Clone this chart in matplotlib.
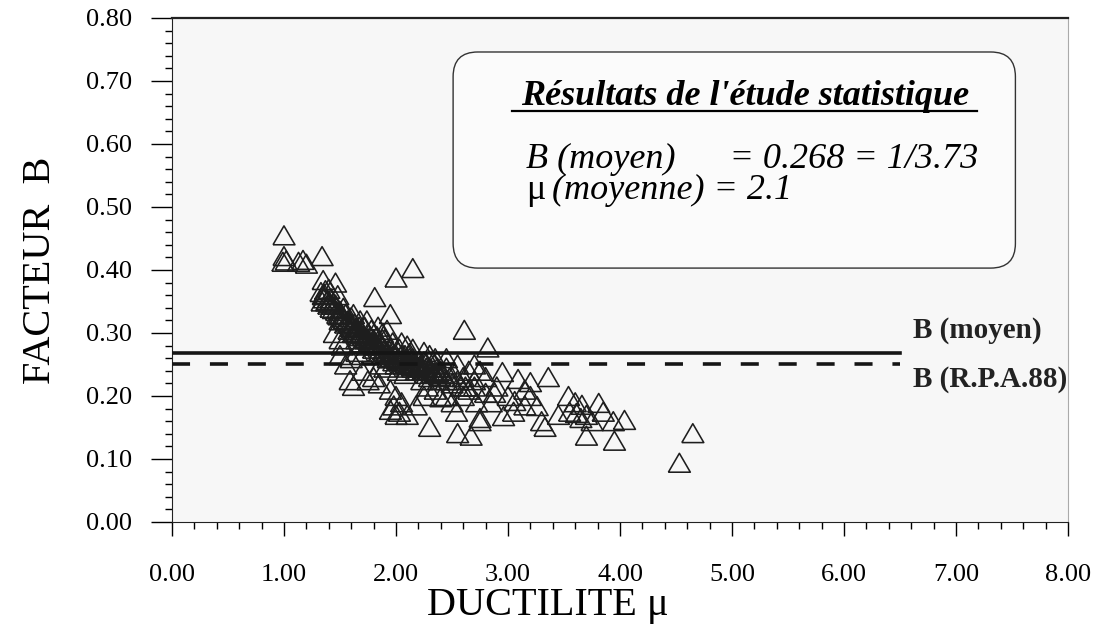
import matplotlib
matplotlib.use("Agg")
import matplotlib.pyplot as plt
from matplotlib.patches import FancyBboxPatch
from matplotlib.ticker import MultipleLocator

plt.rcParams['font.family'] = ['Liberation Serif', 'DejaVu Serif']

# points (ductilite mu, facteur B)
duct = [1.00, 1.00, 0.99, 1.02, 1.13, 1.17, 1.20, 1.34, 1.35, 1.46, 1.40,
        1.33, 1.35, 1.36, 1.38, 1.34, 1.37, 1.40, 1.42, 1.42, 1.44,
        1.46, 1.48, 1.50, 1.50, 1.52, 1.53, 1.55, 1.55, 1.57, 1.58, 1.60, 1.60, 1.45, 1.50, 1.52, 1.48,
        1.62, 1.63, 1.65, 1.65, 1.67, 1.68, 1.70, 1.70, 1.72, 1.73, 1.75, 1.75, 1.77, 1.78, 1.80, 1.80,
        1.62, 1.68, 1.74, 1.65, 1.60, 1.70,
        1.82, 1.83, 1.85, 1.85, 1.87, 1.88, 1.90, 1.90, 1.92, 1.93, 1.95, 1.95, 1.97, 1.98, 2.00, 2.00,
        1.84, 1.88, 1.92, 1.86, 1.90,
        2.02, 2.03, 2.05, 2.05, 2.07, 2.08, 2.10, 2.10, 2.12, 2.13, 2.15, 2.15, 2.17, 2.18, 2.20, 2.20,
        2.05, 2.10, 2.15, 2.02, 2.08,
        2.22, 2.24, 2.25, 2.27, 2.28, 2.30, 2.30, 2.32, 2.34, 2.35, 2.37, 2.38, 2.25, 2.30, 2.35, 2.40,
        2.23, 2.28,
        2.42, 2.45, 2.45, 2.48, 2.50, 2.52, 2.55, 2.58, 2.45, 2.55, 2.60, 2.62,
        1.81, 1.95, 2.00, 2.15, 2.61, 2.82, 2.95, 3.09, 3.20, 3.36, 2.88, 3.06, 3.26, 3.54, 3.66, 3.81,
        3.61, 3.70, 3.94, 4.04, 2.30, 2.55, 2.67, 3.33, 3.70, 3.95, 4.65, 4.53, 2.10, 2.75, 2.54, 2.96,
        2.40, 2.18, 1.62, 1.59, 2.00, 1.95, 2.75, 1.50, 1.55,
        1.70, 1.75, 1.80, 1.85, 1.95, 2.00, 2.05, 1.98, 2.03, 2.25, 2.35, 2.45, 2.50, 2.60, 2.65, 2.70,
        2.72, 2.80, 2.85, 2.90, 3.00, 3.05, 3.15, 3.20, 3.30, 3.45, 3.55, 3.65, 3.75, 3.85, 3.60, 3.15,
        2.70, 2.80, 2.65, 2.70, 2.75,
        1.36, 1.39, 1.41, 1.43, 1.47, 1.49, 1.51, 1.54, 1.56, 1.59, 1.61, 1.64, 1.66, 1.69, 1.71, 1.74,
        1.76, 1.79, 1.81, 1.84, 1.86, 1.89, 1.91, 1.94, 1.96, 1.99, 2.01, 2.04, 2.06, 2.09, 2.11, 2.14,
        2.16, 2.19, 2.21, 2.26, 2.29, 2.33, 2.36, 2.39, 1.97, 2.12, 2.27, 1.78, 1.88, 2.02]
facteur = [0.455, 0.422, 0.413, 0.415, 0.413, 0.416, 0.410, 0.422, 0.384, 0.380, 0.370,
           0.365, 0.360, 0.355, 0.350, 0.350, 0.368, 0.345, 0.355, 0.340, 0.338,
           0.345, 0.330, 0.335, 0.320, 0.325, 0.340, 0.315, 0.330, 0.320, 0.305, 0.310, 0.325, 0.300, 0.290, 0.280, 0.360,
           0.300, 0.315, 0.305, 0.290, 0.310, 0.295, 0.300, 0.285, 0.310, 0.290, 0.300, 0.280, 0.295, 0.285, 0.290, 0.275,
           0.330, 0.320, 0.320, 0.270, 0.260, 0.265,
           0.280, 0.295, 0.285, 0.270, 0.280, 0.265, 0.275, 0.290, 0.270, 0.260, 0.275, 0.260, 0.270, 0.255, 0.265, 0.250,
           0.310, 0.300, 0.305, 0.250, 0.245,
           0.260, 0.275, 0.255, 0.265, 0.250, 0.265, 0.255, 0.245, 0.260, 0.250, 0.245, 0.260, 0.250, 0.240, 0.255, 0.240,
           0.285, 0.280, 0.275, 0.240, 0.235,
           0.250, 0.240, 0.255, 0.245, 0.235, 0.245, 0.230, 0.240, 0.250, 0.235, 0.245, 0.225, 0.270, 0.265, 0.260, 0.240,
           0.225, 0.215,
           0.235, 0.225, 0.245, 0.230, 0.220, 0.235, 0.225, 0.215, 0.260, 0.250, 0.230, 0.215,
           0.357, 0.330, 0.388, 0.403, 0.305, 0.277, 0.238, 0.227, 0.222, 0.230, 0.205, 0.192, 0.184, 0.200, 0.186, 0.189,
           0.173, 0.170, 0.160, 0.162, 0.151, 0.141, 0.137, 0.151, 0.137, 0.129, 0.141, 0.094, 0.170, 0.165, 0.175, 0.168,
           0.198, 0.185, 0.216, 0.225, 0.170, 0.178, 0.160, 0.265, 0.250,
           0.240, 0.225, 0.230, 0.220, 0.210, 0.200, 0.190, 0.185, 0.175, 0.200, 0.210, 0.200, 0.190, 0.200, 0.210, 0.215,
           0.190, 0.205, 0.190, 0.215, 0.200, 0.175, 0.185, 0.200, 0.160, 0.170, 0.175, 0.165, 0.160, 0.175, 0.190, 0.210,
           0.225, 0.230, 0.240, 0.250, 0.240,
           0.362, 0.352, 0.348, 0.345, 0.335, 0.328, 0.330, 0.322, 0.318, 0.315, 0.312, 0.308, 0.302, 0.298, 0.295, 0.292,
           0.288, 0.283, 0.285, 0.280, 0.275, 0.272, 0.268, 0.266, 0.262, 0.262, 0.258, 0.256, 0.258, 0.252, 0.250, 0.248,
           0.252, 0.246, 0.245, 0.242, 0.240, 0.236, 0.238, 0.232, 0.285, 0.268, 0.252, 0.305, 0.290, 0.270]

b_moyen = 0.268
b_rpa = 0.25
lines_end = 6.5

fig = plt.figure(figsize=(10.96, 6.24), dpi=100)
ax = fig.add_axes([0.1569, 0.1635, 0.8176, 0.8077])
ax.set_facecolor('#f7f7f7')

tri = [(-1, -0.86), (1, -0.86), (0, 0.86), (-1, -0.86)]
ax.scatter(duct, facteur, marker=tri, s=250, facecolors='none',
           edgecolors='#1e1e1e', linewidths=1.15, zorder=3)

ax.plot([0, lines_end], [b_moyen, b_moyen], color='#151515', lw=2.6, zorder=4)
ax.plot([0, lines_end], [b_rpa, b_rpa], color='#151515', lw=2.6,
        dashes=(5, 5.5), zorder=4)
ax.text(6.62, 0.304, 'B (moyen)', fontsize=21, fontweight='bold', va='center', color='#222222')
ax.text(6.62, 0.226, 'B (R.P.A.88)', fontsize=21, fontweight='bold', va='center', color='#222222')

# box with the statistics
box = FancyBboxPatch((2.51, 0.403), 5.02, 0.343,
                     boxstyle='round,pad=0,rounding_size=0.22', mutation_aspect=0.178,
                     facecolor='#fbfbfb', edgecolor='#333333', lw=1.0, zorder=5)
ax.add_patch(box)
ax.text(5.12, 0.662, "Résultats de l'étude statistique", fontsize=26, fontweight='bold',
        style='italic', ha='center', va='baseline', zorder=6)
ax.plot([3.04, 7.19], [0.653, 0.653], color='black', lw=1.6, zorder=6)
ax.text(3.16, 0.562, 'B (moyen)      = 0.268 = 1/3.73', fontsize=26, style='italic',
        va='baseline', zorder=6)
ax.text(3.16, 0.512, 'μ', fontsize=26, va='baseline', zorder=6)
ax.text(3.39, 0.512, '(moyenne) = 2.1', fontsize=26, style='italic', va='baseline', zorder=6)

ax.set_xlim(0, 8)
ax.set_ylim(0, 0.8)
ax.xaxis.set_major_locator(MultipleLocator(1))
ax.xaxis.set_minor_locator(MultipleLocator(0.2))
ax.yaxis.set_major_locator(MultipleLocator(0.1))
ax.yaxis.set_minor_locator(MultipleLocator(0.02))
ax.xaxis.set_major_formatter(lambda v, p: f'{v:.2f}')
ax.yaxis.set_major_formatter(lambda v, p: f'{v:.2f}')
ax.tick_params(axis='x', which='major', length=10, width=1, labelsize=19, pad=20)
ax.tick_params(axis='x', which='minor', length=5, width=1)
ax.tick_params(axis='y', which='major', length=15, width=1, labelsize=19, pad=14)
ax.tick_params(axis='y', which='minor', length=5, width=1)
for s in ['left', 'bottom', 'top']:
    ax.spines[s].set_color('#222222')
ax.spines['top'].set_linewidth(1.6)
ax.spines['right'].set_color('#aaaaaa')

fig.text(0.50, 0.03, 'DUCTILITE μ', fontsize=29, ha='center', va='center')
fig.text(0.037, 0.567, 'FACTEUR  B', fontsize=29, rotation=90, ha='center', va='center')

fig.savefig('out.png', dpi=100)
